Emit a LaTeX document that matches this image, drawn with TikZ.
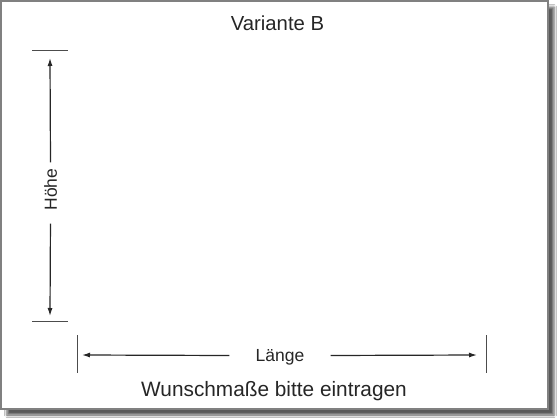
\documentclass[tikz,border=0pt]{standalone}
\usepackage{fontspec}
\setmainfont{Liberation Sans}
\usetikzlibrary{arrows.meta,shadows.blur}
\tikzset{dimline/.style={line width=1.2pt, black!85, -{Latex[length=8pt,width=5pt]}},
tickline/.style={line width=0.8pt, black!70},
labelnode/.style={inner sep=0pt, text height=12.5pt, text depth=0pt, font=\fontsize{17.5}{20}\selectfont, text=black!85}}

\begin{document}
\begin{tikzpicture}[x=1pt,y=-1pt]
\useasboundingbox (0,0) rectangle (560,420);
\fill[white] (0,0) rectangle (560,420);
\draw[black!50, line width=1.5pt, fill=white, blur shadow={shadow xshift=6pt, shadow yshift=-6pt, shadow blur radius=2.5pt, shadow opacity=65}] (1,1) rectangle (548,409);
\node[text=black!85, font=\fontsize{20.3}{24}\selectfont] (titel) at (277.5,23) {Variante B};
\node[text=black!85, font=\fontsize{20.8}{24}\selectfont, anchor=base] (hinweis) at (274,396) {Wunschmaße bitte eintragen};
% Hoehe
\coordinate (hoben) at (50,58);
\coordinate (hunten) at (50,316);
\node[labelnode, rotate=90, inner xsep=6pt] (hoehe) at (50.5,189.5) {Höhe};
\draw[dimline] (hoehe.east) -- (hoben);
\draw[dimline, shorten <=7pt] (hoehe.west) -- (hunten);
% Laenge
\coordinate (llinks) at (82,355);
\coordinate (lrechts) at (477,355);
\node[labelnode, inner xsep=26pt] (laenge) at (280,355.5) {Länge};
\draw[dimline] (laenge.west) -- (llinks);
\draw[dimline] (laenge.east) -- (lrechts);
\foreach \y in {50,321}
	\draw[tickline] (32,\y) -- (68,\y) ;
\foreach \x in {77,486}
	\draw[tickline] (\x,335) -- (\x,373) ;
\end{tikzpicture}
\end{document}
